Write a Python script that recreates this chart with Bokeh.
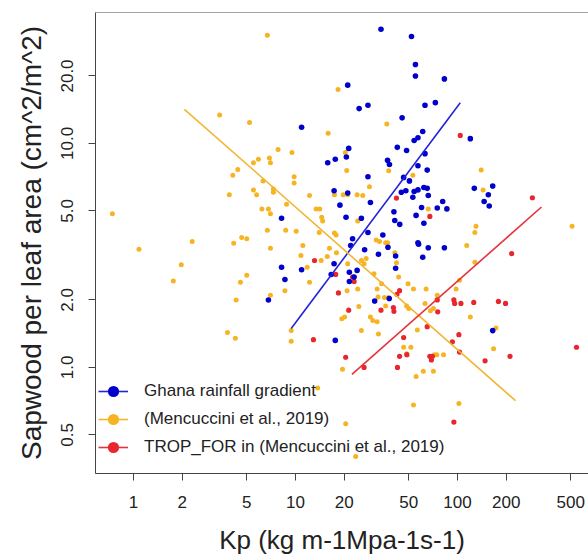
from bokeh.plotting import figure
from bokeh.models import (FixedTicker, CustomJSTickFormatter, Legend, LegendItem,
                          Span, Range1d)
from bokeh.embed import file_html
from bokeh.resources import INLINE

# ---- data ----
ghana_kp = [33.7, 52, 55, 55, 83, 21, 24.7, 28, 63, 73, 45.5, 10.9, 61, 54, 57, 120,
            21.3, 42.5, 48.5, 63, 15.8, 17.6, 20.6, 37, 38, 57, 65, 28, 46.5, 50.5,
            62, 65, 48, 45, 54, 57, 17.3, 21, 66, 53, 18.8, 29, 81, 60, 75, 86,
            40.5, 55.5, 8.2, 20.5, 25.5, 41, 44, 62, 28, 34.6, 22.5, 57, 127, 165,
            155, 146, 157, 21.9, 26.7, 32.5, 57.5, 66, 83, 61, 37.2, 41.5, 41.5,
            21.5, 23, 21.5, 30.8, 37.9, 8.2, 10.9, 17.3, 16.6, 8.6, 6.8, 17.6, 165, 24]
ghana_sla = [32.3, 30, 22.5, 20, 19.4, 18.2, 14.3, 14.8, 14.8, 15.2, 13.0, 11.8, 11.3,
             10.3, 10.6, 10.5, 9.5, 9.6, 9.3, 9.0, 8.2, 8.5, 8.7, 8.4, 8.05, 7.95, 7.6,
             7.1, 7.05, 6.8, 6.35, 6.3, 6.15, 6.05, 6.1, 6.2, 6.15, 6.0, 5.85, 5.75,
             5.3, 5.45, 5.5, 5.17, 5.15, 5.1, 4.95, 4.77, 4.63, 4.68, 4.63, 4.53, 4.35,
             4.4, 4.0, 3.9, 3.75, 3.6, 6.3, 6.45, 5.9, 5.5, 5.25, 3.5, 3.35, 3.2, 3.55,
             3.42, 3.42, 3.1, 3.44, 3.14, 2.77, 2.66, 2.53, 2.42, 1.98, 2.03, 2.8, 2.73,
             2.9, 2.6, 2.47, 2.0, 1.32, 1.46, 2.71]

menc_kp = [3.4, 0.74, 2.3, 6.7, 5.2, 18.3, 15.9, 7.8, 9.5, 6.9, 7.0, 5.9, 5.5, 20.3,
           4.4, 4.1, 9.8, 9.8, 6.3, 20.7, 3.9, 5.5, 5.75, 7.3, 7.3, 12.2, 17.4, 19.7,
           21, 8.8, 6.2, 6.8, 7.0, 13.4, 14.1, 14.5, 14.7, 6.7, 8.7, 10.1, 14, 17.4,
           17.8, 4.65, 5.0, 4.15, 36.6, 37.6, 53, 28.6, 24, 26, 66, 24.2, 31.5, 33,
           36, 37, 140, 144, 130, 128, 510, 1.08, 1.97, 1.76, 7.0, 11.1, 10.8, 16.2,
           15.7, 17.9, 14.4, 11.8, 5.0, 4.57, 12.2, 8.6, 7.0, 4.3, 20.1, 19.3, 3.8,
           4.25, 9.4, 9.4, 19.5, 13.7, 20.4, 23.5, 27.3, 26.5, 25.5, 41, 42, 21,
           20.8, 24.2, 30.5, 34, 43.3, 49.5, 53.5, 31.9, 32.3, 35.4, 37.6, 24.6, 36,
           48.5, 50, 29, 30, 31.9, 25.5, 32.5, 46.5, 51.5, 48.5, 56.5, 63, 68, 71,
           64, 75, 98, 103, 120, 72, 74.5, 82, 55.5, 61.5, 71, 53.5, 102, 128, 173,
           167, 114]
menc_sla = [13.4, 4.85, 3.65, 30.4, 12.4, 17.4, 11.1, 9.4, 9.1, 8.6, 8.2, 8.5, 8.2, 9.1,
            7.65, 7.2, 7.1, 6.65, 6.8, 7.57, 5.9, 6.2, 5.9, 6.25, 6.05, 5.85, 5.9, 5.9,
            5.9, 5.35, 5.1, 5.1, 4.85, 5.1, 5.1, 4.68, 4.5, 4.1, 4.1, 4.05, 4.0, 3.98,
            3.9, 3.8, 3.75, 3.58, 12.2, 7.55, 7.2, 6.4, 5.9, 5.85, 5.1, 4.5, 3.7, 3.65,
            3.6, 3.6, 7.6, 6.2, 4.27, 4.0, 4.27, 3.37, 2.87, 2.43, 3.4, 3.5, 3.16, 3.4,
            3.13, 3.25, 3.0, 2.8, 2.58, 2.4, 2.4, 2.2, 2.1, 2.0, 1.68, 1.65, 1.43, 1.35,
            1.46, 1.31, 0.98, 0.81, 0.56, 0.40, 3.06, 2.9, 3.0, 3.25, 2.93, 2.9, 2.2,
            2.24, 2.62, 2.36, 2.53, 2.36, 2.24, 2.24, 2.06, 2.05, 2.05, 1.87, 1.88,
            1.88, 1.83, 1.68, 1.62, 1.6, 1.46, 1.41, 1.23, 1.23, 1.15, 1.47, 1.93, 1.79,
            1.83, 2.24, 2.1, 2.24, 2.45, 1.68, 1.14, 1.14, 1.14, 0.91, 0.96, 0.96, 0.68,
            0.69, 2.95, 1.5, 1.21, 3.5]

trop_kp = [104, 42, 67.5, 290, 13.1, 17.7, 18.4, 21.3, 12.9, 20.4, 22.5, 23, 43.9,
           42.3, 33.7, 40.2, 40.5, 26.5, 42.6, 43.9, 48.7, 46.5, 65, 75, 75.5, 95, 96,
           105, 126, 93, 102, 103, 67.5, 69, 70, 95, 216, 179, 198, 148, 211, 543]
trop_sla = [10.85, 5.7, 4.72, 5.72, 3.0, 2.6, 2.15, 1.8, 1.33, 1.11, 2.53, 2.42, 2.2,
            2.12, 1.8, 1.85, 1.78, 1.0, 1.0, 1.12, 1.14, 1.36, 1.52, 2.0, 1.77, 2.0,
            1.93, 1.93, 1.95, 1.3, 1.4, 1.17, 1.12, 1.08, 1.12, 0.57, 3.22, 1.97, 1.93,
            1.07, 1.12, 1.23]

# fitted power-law lines (end points)
ghana_fit_kp = [9.4, 104]
ghana_fit_sla = [1.49, 15.2]
menc_fit_kp = [2.06, 228]
menc_fit_sla = [14.2, 0.71]
trop_fit_kp = [22.3, 330]
trop_fit_sla = [0.93, 5.2]

x_ticks = [1, 2, 5, 10, 20, 50, 100, 200, 500]
y_ticks = [0.5, 1, 2, 5, 10, 20]
x_lim = (0.582, 644)
y_lim = (0.336, 38.4)

labels = ["Ghana rainfall gradient", "(Mencuccini et al., 2019)",
          "TROP_FOR in (Mencuccini et al., 2019)"]

BLUE, ORANGE, RED = "#0000CD", "#F7B422", "#E8262E"
BLUE_L, ORANGE_L, RED_L = "#2424D6", "#F2B634", "#E4343C"
FONT = "Liberation Sans"
AX = "#444444"
TXT = "#222222"

p = figure(width=588, height=558, x_axis_type="log", y_axis_type="log",
           x_range=Range1d(*x_lim), y_range=Range1d(*y_lim),
           output_backend="svg", toolbar_location=None,
           min_border_left=95, min_border_right=0, min_border_top=12,
           min_border_bottom=85)
p.grid.visible = False
p.outline_line_color = None
p.background_fill_color = "white"

o_pts = p.scatter(menc_kp, menc_sla, size=5, color=ORANGE, line_color=None)
r_pts = p.scatter(trop_kp, trop_sla, size=5.2, color=RED, line_color=None)
b_pts = p.scatter(ghana_kp, ghana_sla, size=5.6, color=BLUE, line_color=None)

b_line = p.line(ghana_fit_kp, ghana_fit_sla, line_color=BLUE_L, line_width=1.6)
o_line = p.line(menc_fit_kp, menc_fit_sla, line_color=ORANGE_L, line_width=1.6)
r_line = p.line(trop_fit_kp, trop_fit_sla, line_color=RED_L, line_width=1.6)

top_border = Span(location=y_lim[1], dimension="width", line_color=AX, line_width=1)
p.add_layout(top_border)

xa = p.xaxis[0]
ya = p.yaxis[0]
xa.ticker = FixedTicker(ticks=x_ticks)
ya.ticker = FixedTicker(ticks=y_ticks)
xa.formatter = CustomJSTickFormatter(code="return tick.toFixed(0);")
ya.formatter = CustomJSTickFormatter(code="return tick.toFixed(1);")
ya.major_label_orientation = "vertical"
xa.axis_label = "Kp (kg m-1Mpa-1s-1)"
ya.axis_label = "Sapwood per leaf area (cm^2/m^2)"
for ax in (xa, ya):
    ax.axis_line_color = AX
    ax.major_tick_line_color = AX
    ax.minor_tick_line_color = None
    ax.major_tick_out = 7
    ax.major_tick_in = 0
    ax.major_label_text_font = FONT
    ax.major_label_text_font_size = "17px"
    ax.major_label_text_color = TXT
    ax.axis_label_text_font = FONT
    ax.axis_label_text_font_style = "normal"
    ax.axis_label_text_color = TXT
xa.major_label_standoff = 15
ya.major_label_standoff = 15
xa.axis_label_standoff = 14
ya.axis_label_standoff = 12
xa.axis_label_text_font_size = "26px"
ya.axis_label_text_font_size = "28px"

legend = Legend(items=[LegendItem(label=labels[0], renderers=[b_line, b_pts]),
                       LegendItem(label=labels[1], renderers=[o_line, o_pts]),
                       LegendItem(label=labels[2], renderers=[r_line, r_pts])],
                location=(3, 12), margin=0, padding=0, spacing=0,
                glyph_width=30, glyph_height=28, label_height=28,
                label_standoff=16, label_text_font=FONT,
                label_text_font_size="17px", label_text_color=TXT,
                border_line_color=None, background_fill_alpha=0)
p.add_layout(legend)

open("out.html", "w").write(file_html(p, INLINE))
